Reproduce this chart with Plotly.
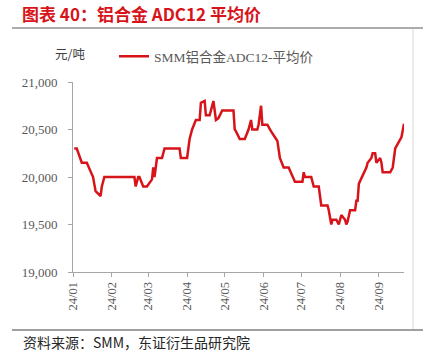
import plotly.graph_objects as go

dates = ["2024-01-02","2024-01-04","2024-01-08","2024-01-12","2024-01-17","2024-01-19","2024-01-23","2024-01-24","2024-01-26",
         "2024-02-19","2024-02-20","2024-02-22","2024-02-23","2024-02-26","2024-02-29",
         "2024-03-04","2024-03-05","2024-03-06","2024-03-08","2024-03-12","2024-03-14","2024-03-26","2024-03-27",
         "2024-04-01","2024-04-03","2024-04-05","2024-04-08","2024-04-11","2024-04-12","2024-04-15","2024-04-16","2024-04-19",
         "2024-04-22","2024-04-24","2024-04-26","2024-04-29",
         "2024-05-08","2024-05-09","2024-05-10","2024-05-13","2024-05-17","2024-05-20","2024-05-22","2024-05-23","2024-05-27",
         "2024-05-28","2024-05-30","2024-05-31",
         "2024-06-04","2024-06-06","2024-06-07","2024-06-11","2024-06-12","2024-06-14","2024-06-17","2024-06-21","2024-06-24","2024-06-26",
         "2024-07-02","2024-07-03","2024-07-04","2024-07-09","2024-07-11","2024-07-15","2024-07-16","2024-07-17","2024-07-22","2024-07-23",
         "2024-07-25","2024-07-26","2024-07-29","2024-07-31",
         "2024-08-02","2024-08-05","2024-08-06","2024-08-07","2024-08-09","2024-08-13","2024-08-14","2024-08-15","2024-08-16","2024-08-20",
         "2024-08-22","2024-08-23","2024-08-26","2024-08-27","2024-08-29","2024-08-30",
         "2024-09-02","2024-09-03","2024-09-04","2024-09-10","2024-09-12","2024-09-14","2024-09-17","2024-09-19","2024-09-21"]
prices = [20300,20300,20150,20150,20000,19850,19800,19900,20000,
          20000,19900,20000,20000,19900,19900,
          19975,20100,20000,20200,20200,20300,20300,20200,
          20200,20400,20500,20600,20600,20780,20800,20650,20650,
          20800,20600,20620,20700,
          20700,20500,20480,20400,20400,20500,20600,20500,20500,
          20550,20750,20550,
          20550,20500,20480,20400,20380,20200,20100,20100,20020,19950,
          19950,20050,20000,20000,19900,19900,19800,19700,19700,19650,
          19500,19550,19550,19500,
          19600,19550,19500,19530,19650,19650,19750,19750,19930,20040,
          20100,20150,20200,20250,20250,20150,
          20200,20150,20050,20050,20100,20300,20370,20420,20560]

month_ticks = ["2024-01-01","2024-02-01","2024-03-01","2024-04-01","2024-05-01","2024-06-01","2024-07-01","2024-08-01","2024-09-01"]
month_labels = ["24/01","24/02","24/03","24/04","24/05","24/06","24/07","24/08","24/09"]
y_ticks = [19000, 19500, 20000, 20500, 21000]
y_labels = ["19,000", "19,500", "20,000", "20,500", "21,000"]

series_name = "SMM铝合金ADC12-平均价"
title_text = "图表 40：铝合金 ADC12 平均价"
unit_text = "元/吨"
source_text = "资料来源：SMM，东证衍生品研究院"

W, H = 437, 363
px = lambda x: x / W
py = lambda y: 1 - y / H

serif = "Liberation Serif, Noto Sans CJK SC, serif"
cjk = "Noto Sans CJK SC, sans-serif"
red = "#D7141A"

fig = go.Figure()
fig.add_trace(go.Scatter(x=dates, y=prices, mode="lines", name=series_name,
                         line=dict(color=red, width=2.5)))

fig.update_layout(
    width=W, height=H, autosize=False,
    margin=dict(l=0, r=0, t=0, b=0),
    paper_bgcolor="white", plot_bgcolor="white",
    showlegend=True,
    legend=dict(orientation="h", x=px(114), y=py(41), xanchor="left", yanchor="top",
                font=dict(family=serif, size=13.5, color="#595959"),
                bgcolor="rgba(0,0,0,0)", itemwidth=30),
    xaxis=dict(domain=[px(73), px(404)], type="date",
               range=["2024-01-01", "2024-09-21"],
               tickmode="array", tickvals=month_ticks, ticktext=month_labels,
               tickangle=-90, ticks="outside", ticklen=4, tickcolor="#A6A6A6",
               showline=True, linecolor="#A6A6A6", linewidth=1,
               showgrid=False, zeroline=False, automargin=False,
               tickfont=dict(family=serif, size=12.5, color="#595959")),
    yaxis=dict(domain=[py(272), py(82)], range=[19000, 21000],
               tickmode="array", tickvals=y_ticks, ticktext=y_labels,
               ticks="outside", ticklen=4, tickcolor="#A6A6A6",
               showline=True, linecolor="#A6A6A6", linewidth=1,
               showgrid=False, zeroline=False, automargin=False,
               ticklabelstandoff=8,
               tickfont=dict(family=serif, size=13, color="#595959")),
)

fig.add_annotation(text="<b>" + title_text + "</b>", xref="paper", yref="paper",
                   x=px(20), y=py(14), xanchor="left", yanchor="middle", showarrow=False,
                   font=dict(family=cjk, size=17, color=red))
fig.add_annotation(text=unit_text, xref="paper", yref="paper",
                   x=px(70), y=py(54), xanchor="center", yanchor="middle", showarrow=False,
                   font=dict(family=cjk, size=12.5, color="#404040"))
fig.add_annotation(text=source_text, xref="paper", yref="paper",
                   x=px(21), y=py(342), xanchor="left", yanchor="middle", showarrow=False,
                   font=dict(family=cjk, size=14, color="#262626"))

# frame lines
fig.add_shape(type="line", xref="paper", yref="paper", x0=px(12), x1=px(423), y0=py(28), y1=py(28),
              line=dict(color="#595959", width=1))
fig.add_shape(type="line", xref="paper", yref="paper", x0=px(12), x1=px(423), y0=py(330), y1=py(330),
              line=dict(color="#7F7F7F", width=1.5))
fig.add_shape(type="line", xref="paper", yref="paper", x0=px(413), x1=px(413), y0=py(29), y1=py(329),
              line=dict(color="#D9D9D9", width=1))

# remove the browser's default 8px body margin so the figure fills the window exactly
fig.write_html("out.html", config={"displayModeBar": False},
               post_script="document.body.style.margin='0px';")
